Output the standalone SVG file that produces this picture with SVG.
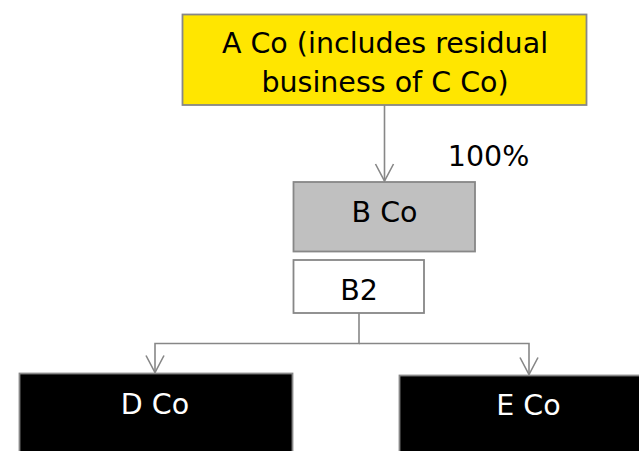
<svg xmlns="http://www.w3.org/2000/svg" width="639" height="451" viewBox="0 0 639 451">
  <style>
    .box { stroke: #878787; stroke-width: 1.8; }
    .lbl { font-family: "DejaVu Sans", "Liberation Sans", sans-serif; font-size: 28.5px; text-anchor: middle; }
    .wire { fill: none; stroke: #878787; stroke-width: 1.6; }
  </style>
  <defs>
    <marker id="vee" markerWidth="22" markerHeight="22" refX="18" refY="10" orient="auto" markerUnits="userSpaceOnUse">
      <path d="M1,1 L18,10 L1,19" fill="none" stroke="#878787" stroke-width="1.6"/>
    </marker>
  </defs>

  <g id="connectors">
    <line class="wire" x1="384.5" y1="105" x2="384.5" y2="181" marker-end="url(#vee)"/>
    <polyline class="wire" points="359,313 359,343.5 155,343.5 155,372.5" marker-end="url(#vee)"/>
    <polyline class="wire" points="359,343.5 529,343.5 529,374.5" marker-end="url(#vee)"/>
  </g>

  <g id="node-a">
    <rect class="box" x="182.5" y="14.5" width="404" height="90.5" fill="#FFE600"/>
    <text class="lbl" x="385" y="53" fill="#000">A Co (includes residual</text>
    <text class="lbl" x="385" y="91.5" fill="#000">business of C Co)</text>
  </g>

  <g id="label-100">
    <text class="lbl" x="488.5" y="165.5" fill="#000">100%</text>
  </g>

  <g id="node-b">
    <rect class="box" x="293.5" y="182" width="181.5" height="69.5" fill="#C0C0C0"/>
    <text class="lbl" x="384.5" y="221.5" fill="#000">B Co</text>
  </g>

  <g id="node-b2">
    <rect class="box" x="293.5" y="260" width="130.5" height="53" fill="#FFFFFF"/>
    <text class="lbl" x="359" y="300" fill="#000">B2</text>
  </g>

  <g id="node-d">
    <rect class="box" x="19.5" y="373.5" width="273" height="90" fill="#000000"/>
    <text class="lbl" x="155" y="414" fill="#FFFFFF">D Co</text>
  </g>

  <g id="node-e">
    <rect class="box" x="399.5" y="375.5" width="260" height="90" fill="#000000"/>
    <text class="lbl" x="528.5" y="415" fill="#FFFFFF">E Co</text>
  </g>
</svg>
